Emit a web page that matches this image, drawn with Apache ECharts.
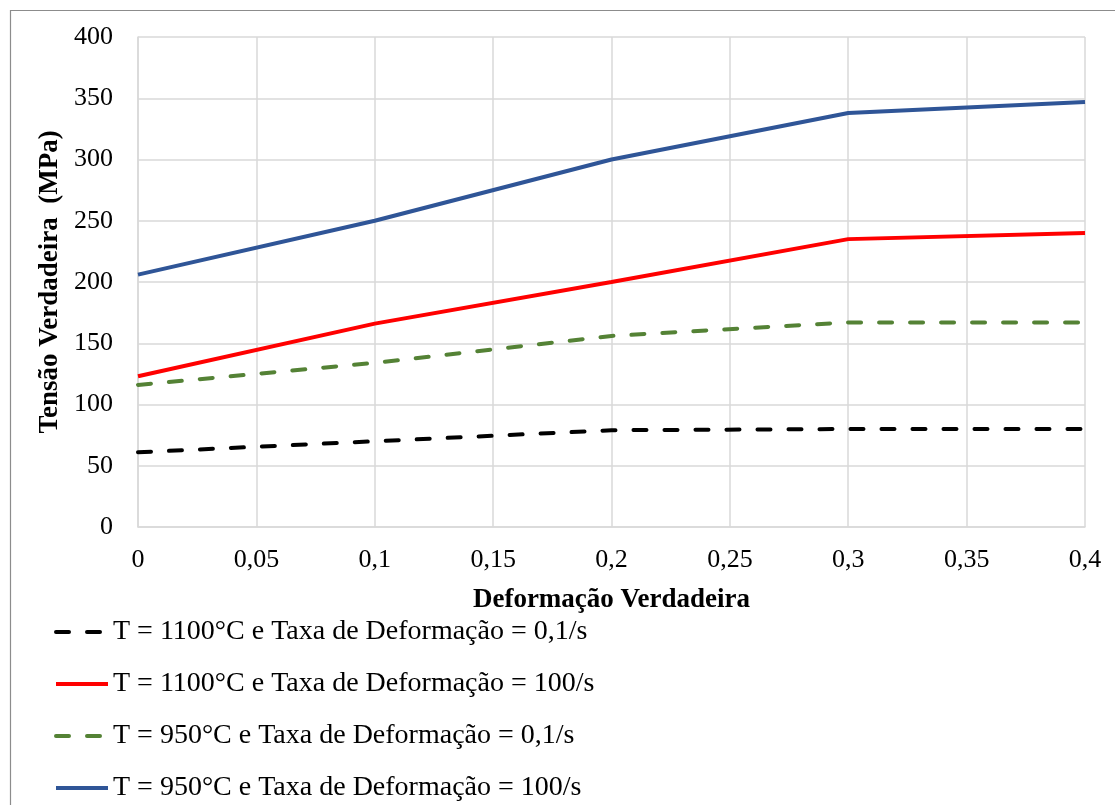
<!DOCTYPE html>
<html>
<head>
<meta charset="utf-8">
<script src="https://cdn.jsdelivr.net/npm/echarts@6/dist/echarts.min.js"></script>
<style>
html,body{margin:0;padding:0;background:#fff;}
#chart{width:1115px;height:805px;}
</style>
</head>
<body>
<div id="chart"></div>
<script>
const strain = [0, 0.1, 0.2, 0.3, 0.4];
const s1100_01 = [61, 70, 79, 80, 80];
const s1100_100 = [123, 166, 200, 235, 240];
const s950_01 = [116, 134, 156, 167, 167];
const s950_100 = [206, 250, 300, 338, 347];
const seriesNames = [
  'T = 1100°C e Taxa de Deformação = 0,1/s',
  'T = 1100°C e Taxa de Deformação = 100/s',
  'T = 950°C e Taxa de Deformação = 0,1/s',
  'T = 950°C e Taxa de Deformação = 100/s'
];
const xTitle = 'Deformação Verdadeira';
const yTitle = 'Tensão Verdadeira  (MPa)';

const font = '"Liberation Serif", "Times New Roman", serif';
function pairs(ys){ return strain.map((x,i)=>[x, ys[i]]); }

const chart = echarts.init(document.getElementById('chart'), null, {renderer:'canvas'});
const dash = [13, 18];
const legendRowTop = [618, 670, 722, 774];
chart.setOption({
  animation: false,
  backgroundColor: '#fff',
  graphic: [
    {type:'line', shape:{x1:10,y1:10.5,x2:1115,y2:10.5}, style:{stroke:'#8c8c8c', lineWidth:1.2}},
    {type:'line', shape:{x1:10.5,y1:10,x2:10.5,y2:805}, style:{stroke:'#8c8c8c', lineWidth:1.2}}
  ],
  grid: {left:138, right:30, top:37, bottom:278, containLabel:false},
  xAxis: {
    type:'value', min:0, max:0.4, interval:0.05,
    name: xTitle, nameLocation:'middle', nameGap:60,
    nameTextStyle:{fontFamily:font, fontSize:27, fontWeight:'bold', color:'#000'},
    axisLine:{show:true, lineStyle:{color:'#d9d9d9', width:1.5}},
    axisTick:{show:false},
    splitLine:{show:true, lineStyle:{color:'#d9d9d9', width:1.5}},
    axisLabel:{margin:20, fontFamily:font, fontSize:26, color:'#000',
      formatter: v => String(+v.toFixed(2)).replace('.', ',')}
  },
  yAxis: {
    type:'value', min:0, max:400, interval:50,
    name: yTitle, nameLocation:'middle', nameGap:69, nameRotate:90,
    nameTextStyle:{fontFamily:font, fontSize:27, fontWeight:'bold', color:'#000'},
    axisLine:{show:true, lineStyle:{color:'#d9d9d9', width:1.5}},
    axisTick:{show:false},
    splitLine:{show:true, lineStyle:{color:'#d9d9d9', width:1.5}},
    axisLabel:{margin:25, fontFamily:font, fontSize:26, color:'#000'}
  },
  legend: seriesNames.map((n, i) => ({
    orient:'vertical', left:54, top:legendRowTop[i], padding:0,
    itemWidth:52, itemHeight:14, itemGap:0,
    itemStyle:{opacity:0},
    lineStyle:{width:4},
    textStyle:{fontFamily:font, fontSize:28, color:'#000'},
    data:[n]
  })),
  series: [
    {name:seriesNames[0], type:'line', data:pairs(s1100_01), symbol:'none', color:'#000000',
     lineStyle:{color:'#000000', width:4, type:dash, cap:'round'}},
    {name:seriesNames[1], type:'line', data:pairs(s1100_100), symbol:'none', color:'#ff0000',
     lineStyle:{color:'#ff0000', width:4}},
    {name:seriesNames[2], type:'line', data:pairs(s950_01), symbol:'none', color:'#548235',
     lineStyle:{color:'#548235', width:4, type:dash, cap:'round'}},
    {name:seriesNames[3], type:'line', data:pairs(s950_100), symbol:'none', color:'#2f5597',
     lineStyle:{color:'#2f5597', width:4}}
  ]
});
</script>
</body>
</html>
